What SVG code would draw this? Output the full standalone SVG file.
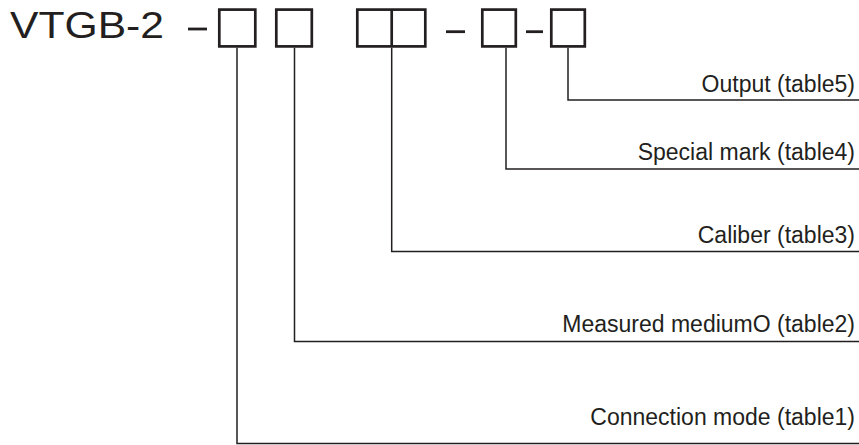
<svg xmlns="http://www.w3.org/2000/svg" width="859" height="445" viewBox="0 0 859 445">
<style>
.box{fill:none;stroke:#231f20;stroke-width:2.7}
.dash{stroke:#231f20;stroke-width:2.8}
.conn{fill:none;stroke:#231f20;stroke-width:1.5}
.lbl{font-family:"Liberation Sans",Arial,sans-serif;font-size:23px;fill:#231f20;text-anchor:end}
.title{font-family:"Liberation Sans",Arial,sans-serif;font-size:36px;fill:#231f20}
</style>
<rect width="859" height="445" fill="#fff"/>
<g id="title">
<text class="title" x="10" y="38" textLength="154" lengthAdjust="spacingAndGlyphs">VTGB-2</text>
<line class="dash" x1="188" y1="29" x2="207" y2="29"/>
<line class="dash" x1="446" y1="31.7" x2="465" y2="31.7"/>
<line class="dash" x1="526" y1="31.7" x2="543" y2="31.7"/>
</g>
<g id="box1"><rect class="box" x="219.3" y="9.6" width="36" height="36.8"/></g>
<g id="box2"><rect class="box" x="276.3" y="9.6" width="35.5" height="36.8"/></g>
<g id="box3"><rect class="box" x="357.3" y="9.6" width="68" height="36.8"/><line class="box" x1="391.7" y1="9.6" x2="391.7" y2="46.4"/></g>
<g id="box4"><rect class="box" x="482.3" y="9.6" width="33.5" height="36.8"/></g>
<g id="box5"><rect class="box" x="551.3" y="9.6" width="33.5" height="36.8"/></g>
<g id="connectors">
<polyline class="conn" points="237,47.8 237,443.5 859,443.5"/>
<polyline class="conn" points="294.5,47.8 294.5,341.5 859,341.5"/>
<polyline class="conn" points="391.7,47.8 391.7,251.5 859,251.5"/>
<polyline class="conn" points="506,47.8 506,169 859,169"/>
<polyline class="conn" points="568,47.8 568,100 859,100"/>
</g>
<g id="labels">
<text class="lbl" x="855" y="91.7">Output (table5)</text>
<text class="lbl" x="855" y="160">Special mark (table4)</text>
<text class="lbl" x="855" y="243">Caliber (table3)</text>
<text class="lbl" x="855" y="331.7">Measured mediumO (table2)</text>
<text class="lbl" x="855" y="425">Connection mode (table1)</text>
</g>
</svg>
